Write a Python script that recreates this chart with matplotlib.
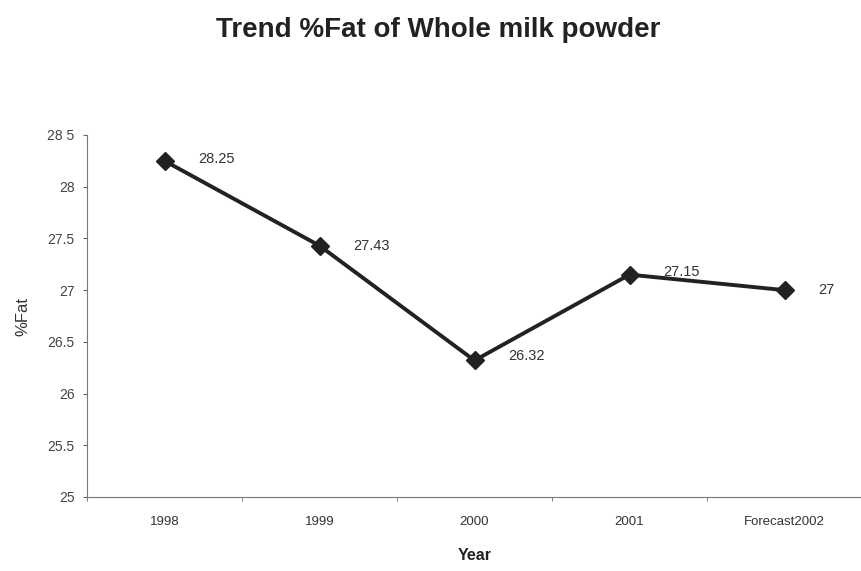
import matplotlib
matplotlib.use("Agg")
import matplotlib.pyplot as plt

categories = ["1998", "1999", "2000", "2001", "Forecast2002"]
fat_values = [28.25, 27.43, 26.32, 27.15, 27.0]
value_labels = ["28.25", "27.43", "26.32", "27.15", "27"]
y_ticks = [25, 25.5, 26, 26.5, 27, 27.5, 28, 28.5]
y_tick_labels = ["25", "25.5", "26", "26.5", "27", "27.5", "28", "28 5"]

plt.rcParams['font.family'] = ['Liberation Sans', 'DejaVu Sans']

fig = plt.figure(figsize=(8.62, 5.71), dpi=100)
W, H = 862, 571
ax = fig.add_axes([87 / W, (H - 497) / H, (862 - 87) / W, (497 - 135) / H])

x = list(range(len(categories)))
ax.plot(x, fat_values, color="#222222", lw=2.8, marker="D", markersize=9,
        markerfacecolor="#222222", markeredgecolor="#222222", zorder=3)

label_dy = [1, 0, 3, 2, 0]
for xi, yi, lab, dy in zip(x, fat_values, value_labels, label_dy):
    ax.annotate(lab, (xi, yi), xytext=(24, dy), textcoords="offset points",
                fontsize=10.5, color="#333333", va="center", ha="left", zorder=4)

ax.set_xlim(-0.475, 4.437)
ax.set_ylim(25, 28.5)
ax.set_yticks(y_ticks)
ax.set_yticklabels(y_tick_labels, fontsize=10, color="#444444")
ax.set_xticks(x)
ax.set_xticklabels(categories, fontsize=9.5, color="#333333")
ax.tick_params(axis="x", length=0, pad=14)
ax.tick_params(axis="y", length=3, color="#666666", pad=6)
ax.set_xticks([i + 0.5 for i in range(-1, 5)], minor=True)
ax.tick_params(axis="x", which="minor", length=3, color="#666666")

for s in ["top", "right"]:
    ax.spines[s].set_visible(False)
ax.spines["left"].set_color("#777777")
ax.spines["bottom"].set_color("#777777")

ax.set_ylabel("%Fat", fontsize=12, color="#333333", labelpad=12)
ax.set_xlabel("Year", fontsize=11.5, fontweight="bold", color="#222222", labelpad=14)

fig.text(438 / W, 1 - 30 / H, "Trend %Fat of Whole milk powder", ha="center",
         va="center", fontsize=20, fontweight="bold", color="#222222")

fig.savefig("out.png", dpi=100)
